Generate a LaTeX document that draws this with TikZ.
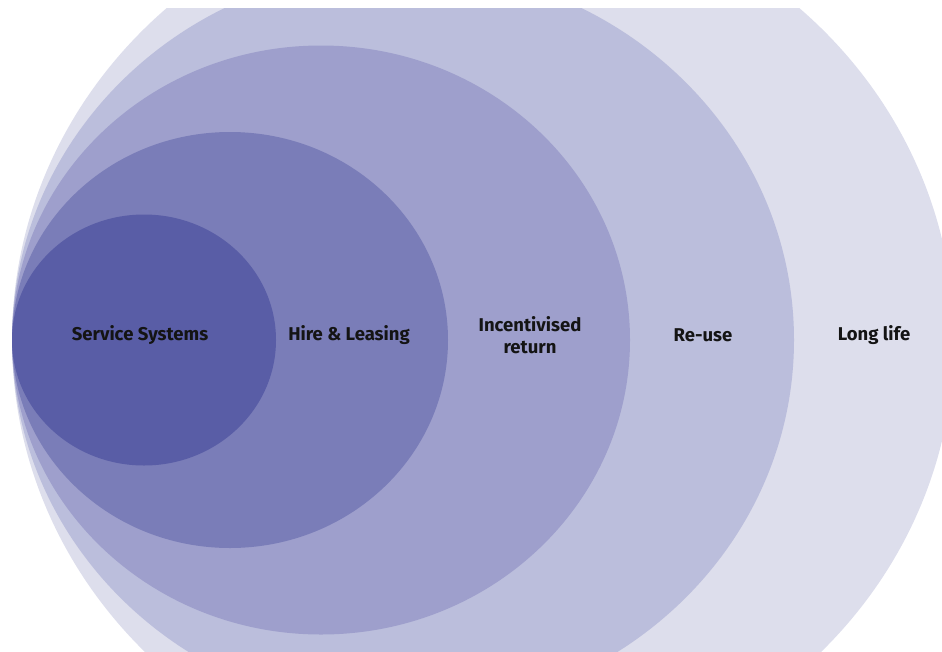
\documentclass[tikz,border=0pt]{standalone}
\usepackage{fontspec}
\setmainfont{Fira Sans}
\usetikzlibrary{shapes.geometric}

\definecolor{ringA}{HTML}{595DA6}
\definecolor{ringB}{HTML}{7A7DB8}
\definecolor{ringC}{HTML}{9E9FCC}
\definecolor{ringD}{HTML}{BBBEDC}
\definecolor{ringE}{HTML}{DDDEEC}

\begin{document}
\begin{tikzpicture}[x=1pt,y=-1pt,
  ring/.style={ellipse,draw=none,inner sep=0pt,outer sep=0pt},
  tag/.style={font=\bfseries\fontsize{18.5}{22}\selectfont,
    text=black!92,align=center}]
  \useasboundingbox (0,0) rectangle (942,651);
  \clip (0,8) rectangle (942,651);

  % rings, outermost first, all touching on the left
  \node[ring,fill=ringE,minimum width=942pt,minimum height=896pt]
    (longlife) at (483,340) {};
  \node[ring,fill=ringD,minimum width=782pt,minimum height=746pt]
    (reuse) at (403,340) {};
  \node[ring,fill=ringC,minimum width=618pt,minimum height=589pt]
    (return) at (321,340) {};
  \node[ring,fill=ringB,minimum width=436pt,minimum height=416pt]
    (hire) at (230,340) {};
  \node[ring,fill=ringA,minimum width=264pt,minimum height=251pt]
    (service) at (144,340) {};

  % labels
  \node[tag] (serviceTag) at (140,335) {Service Systems};
  \node[tag] (hireTag) at (349,335) {Hire \& Leasing};
  \node[tag] (returnTag) at (530,335) {Incentivised\\return};
  \node[tag] (reuseTag) at (703,335) {Re-use};
  \node[tag] (longTag) at (874,335) {Long life};
\end{tikzpicture}
\end{document}
